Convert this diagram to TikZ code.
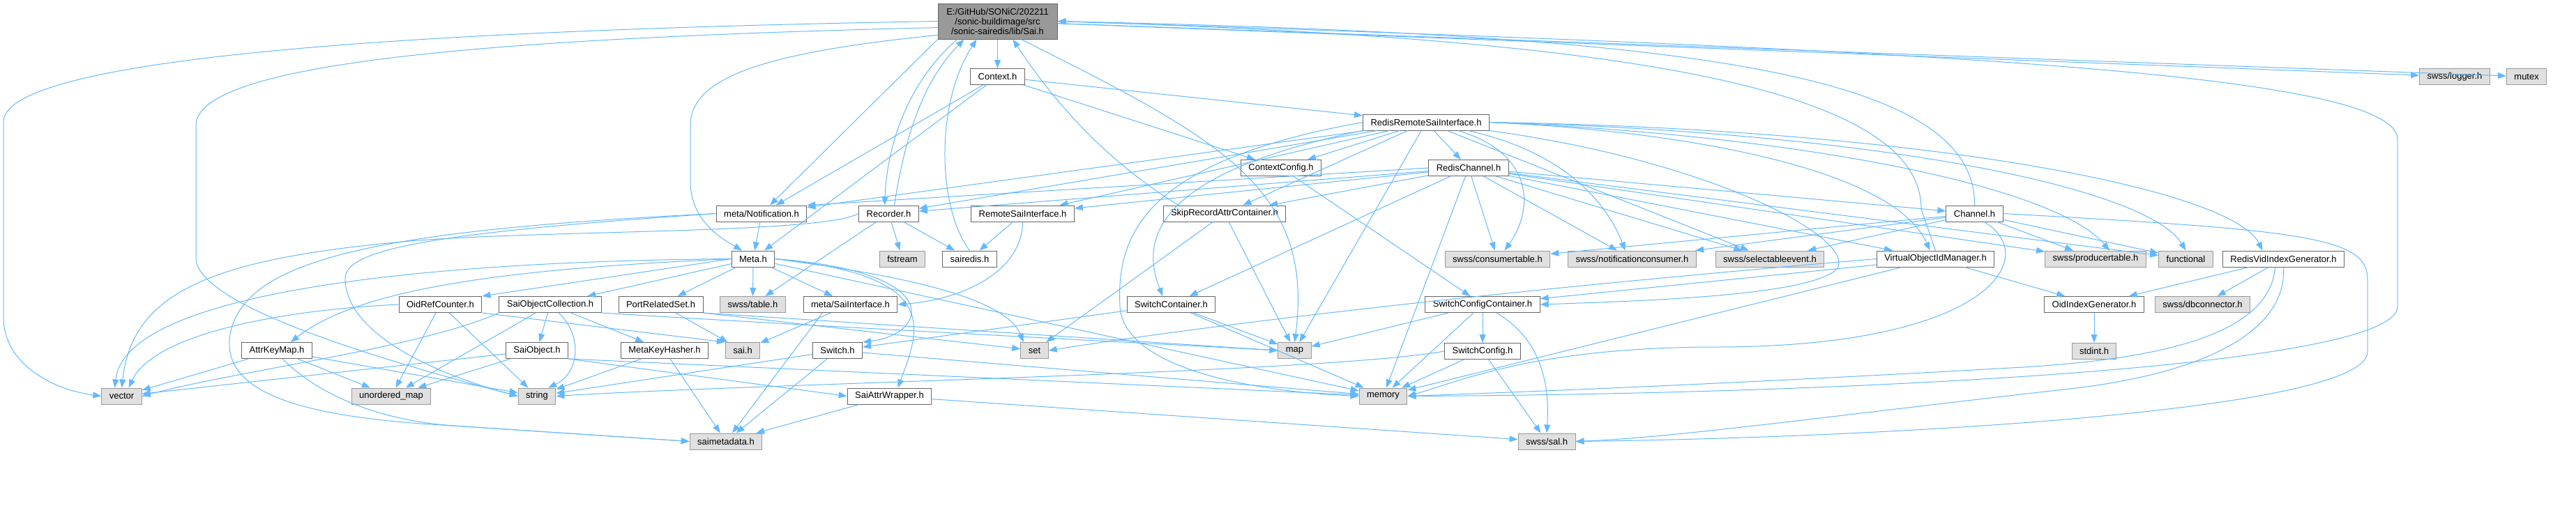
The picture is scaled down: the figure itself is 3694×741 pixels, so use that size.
\documentclass[tikz,border=0pt]{standalone}
\usepackage{fontspec}
\setmainfont{Liberation Sans}
\usetikzlibrary{arrows.meta, positioning}
\definecolor{edgeblue}{HTML}{63B8FF}
\definecolor{sysgrey}{HTML}{E0E0E0}
\definecolor{sysline}{HTML}{999999}
\definecolor{hdrline}{HTML}{666666}
\definecolor{maingrey}{HTML}{999999}

\begin{document}
\begin{tikzpicture}[
			x=0.5pt, y=-0.5pt,
			node distance=21.5pt,
			font=\fontsize{6.5}{7}\selectfont,
			hdr/.style={draw=hdrline, fill=white, line width=0.5pt,
				inner xsep=5.5pt, inner ysep=0pt, minimum height=11.5pt},
			syshdr/.style={hdr, draw=sysline, fill=sysgrey},
			mainhdr/.style={hdr, fill=maingrey, align=center,
				minimum width=85.5pt, minimum height=25.5pt},
			dep/.style={-{Triangle[length=6pt, width=4.5pt]}, draw=edgeblue, line width=0.5pt}
			]
			\useasboundingbox (0,0) rectangle (3694,741);

			\node[mainhdr] (sai) at (1430.5,30.5) {E:/GitHub/SONiC/202211\\/sonic-buildimage/src\\/sonic-sairedis/lib/Sai.h};
			\node[hdr] (context) at (1430.5,110) {Context.h};
			\node[syshdr] (logger) at (3520,110) {swss/logger.h};
			\node[syshdr, right=11.5pt of logger] (mutex) {mutex};
			\node[hdr] (rrsi) at (2045,175.5) {RedisRemoteSaiInterface.h};
			\node[hdr] (ctxcfg) at (1837,241) {ContextConfig.h};
			\node[hdr] (redischan) at (2106,241) {RedisChannel.h};
			\node[hdr] (notif) at (1092,306.5) {meta/Notification.h};
			\node[hdr] (recorder) at (1274.5,306.5) {Recorder.h};
			\node[hdr] (remotesai) at (1466.5,306.5) {RemoteSaiInterface.h};
			\node[hdr] (skiprec) at (1756,306.5) {SkipRecordAttrContainer.h};
			\node[hdr] (channel) at (2831.5,306.5) {Channel.h};
			\node[hdr] (meta) at (1080,371.5) {Meta.h};
			\node[syshdr] (fstream) at (1294,371.5) {fstream};
			\node[hdr] (sairedis) at (1390.5,371.5) {sairedis.h};
			\node[syshdr] (consumer) at (2147.5,371.5) {swss/consumertable.h};
			\node[syshdr] (notifcons) at (2340.5,371.5) {swss/notificationconsumer.h};
			\node[syshdr] (selev) at (2538,371.5) {swss/selectableevent.h};
			\node[hdr] (vidmgr) at (2775.5,371.5) {VirtualObjectIdManager.h};
			\node[syshdr] (producer) at (3005,371.5) {swss/producertable.h};
			\node[syshdr] (functional) at (3134.5,371.5) {functional};
			\node[hdr] (vidgen) at (3274.5,371.5) {RedisVidIndexGenerator.h};
			\node[hdr] (oidref) at (631.5,437) {OidRefCounter.h};
			\node[hdr] (saiobjcoll) at (789,437) {SaiObjectCollection.h};
			\node[hdr] (portset) at (947.5,437) {PortRelatedSet.h};
			\node[syshdr] (table) at (1079.5,437) {swss/table.h};
			\node[hdr] (saiif) at (1219.5,437) {meta/SaiInterface.h};
			\node[hdr] (swcont) at (1679.5,437) {SwitchContainer.h};
			\node[hdr] (swcfgcont) at (2126,437) {SwitchConfigContainer.h};
			\node[hdr] (oidgen) at (3003,437) {OidIndexGenerator.h};
			\node[syshdr] (dbconn) at (3158.5,437) {swss/dbconnector.h};
			\node[hdr] (attrkey) at (397,503) {AttrKeyMap.h};
			\node[hdr] (saiobj) at (770,503) {SaiObject.h};
			\node[hdr] (hasher) at (953,503) {MetaKeyHasher.h};
			\node[syshdr] (saih) at (1065,503) {sai.h};
			\node[hdr] (switchh) at (1201,503) {Switch.h};
			\node[syshdr] (set) at (1483.5,503) {set};
			\node[syshdr] (map) at (1856.5,503) {map};
			\node[hdr, below=of swcfgcont] (swcfg) {SwitchConfig.h};
			\node[syshdr, below=of oidgen] (stdint) {stdint.h};
			\node[syshdr] (vector) at (174.5,568.5) {vector};
			\node[syshdr] (umap) at (561,568.5) {unordered\_map};
			\node[syshdr] (string) at (770,568.5) {string};
			\node[hdr] (wrapper) at (1275.5,568.5) {SaiAttrWrapper.h};
			\node[syshdr] (memory) at (1983.5,568.5) {memory};
			\node[syshdr] (saimeta) at (1041,633.5) {saimetadata.h};
			\node[syshdr] (sal) at (2218,633.5) {swss/sal.h};

			\foreach \a/\b in {sai/context, sai/logger, sai/mutex, recorder/fstream, recorder/sairedis, recorder/table,
				context/notif, context/meta, context/ctxcfg, context/rrsi,
				rrsi/ctxcfg, rrsi/redischan, rrsi/recorder, rrsi/notif, rrsi/remotesai, rrsi/skiprec, rrsi/selev, rrsi/map,
				redischan/channel, redischan/recorder, redischan/remotesai, redischan/skiprec, redischan/swcont,
				redischan/vidmgr, redischan/consumer, redischan/notifcons, redischan/selev, redischan/producer,
				redischan/functional, redischan/memory,
				channel/consumer, channel/notifcons, channel/selev, channel/producer, channel/functional,
				ctxcfg/swcfgcont, swcfgcont/swcfg, swcfgcont/map, swcfgcont/memory, swcfg/memory, swcfg/sal,
				vidmgr/swcfgcont, vidmgr/memory, vidmgr/oidgen, vidgen/oidgen, vidgen/dbconn, oidgen/stdint,
				remotesai/sairedis, skiprec/set, skiprec/map, swcont/switchh, swcont/map, swcont/memory,
				notif/meta, meta/saiobjcoll, meta/portset, meta/table, meta/saiif, meta/memory,
				oidref/umap, oidref/string, saiobjcoll/saiobj, saiobjcoll/hasher, saiobjcoll/umap, portset/saih, saiif/saih,
				attrkey/vector, attrkey/umap, attrkey/string, saiobj/umap, saiobj/vector,
				hasher/string, hasher/saimeta, switchh/string, switchh/saimeta, switchh/memory, wrapper/saimeta, wrapper/sal} {
				\draw[dep] (\a) -- (\b);
			}

			\draw[dep] (sai.south west) -- (notif);
			\draw[dep] (redischan.west) -- (notif.north east);
			\draw[dep] (meta.west) -- (oidref.north east);
			\draw[dep] (oidref.south east) -- (saih.north west);
			\draw[dep] (portset.south east) -- (set);
			\draw[dep] (portset.south east) -- (map.west);
			\draw[dep] ([xshift=-20pt]saiif.south) -- (saimeta);
			\draw[dep] (saiobj.south east) -- (memory);
			\draw[dep] (saiobj.south east) -- (wrapper.west);

			\draw[dep] (sai.west) .. controls (500,45) and (5,90) .. (5,175) -- (5,455) .. controls (5,525) and (80,560) .. (vector.west);
			\draw[dep] (sai.186) .. controls (700,55) and (281,90) .. (281,180) -- (281,370) .. controls (281,440) and (560,520) .. (string.west);
			\draw[dep] (sai.193) .. controls (1100,75) and (990,110) .. (990,180) -- (990,260) .. controls (990,320) and (1040,345) .. ([xshift=-8pt]meta.north);
			\draw[dep] ([xshift=17pt]sai.south) .. controls (1750,200) and (1885,270) .. (map.north);
			\draw[dep] (sai.east) .. controls (2700,70) and (3438,100) .. (3438,200) -- (3438,440) .. controls (3438,530) and (2600,566) .. (memory.east);
			\draw[dep] ([xshift=-29pt]sai.south) .. controls (1300,120) and (1272,210) .. ([xshift=-3pt]recorder.north);
			\draw[dep] ([xshift=4pt]recorder.north) .. controls (1300,180) and (1330,110) .. ([xshift=-24pt]sai.south);
			\draw[dep] (sairedis.north) .. controls (1345,300) and (1340,150) .. ([xshift=-15pt]sai.south);
			\draw[dep] ([xshift=-33pt]skiprec.north) .. controls (1600,240) and (1520,160) .. ([xshift=11pt]sai.south);
			\draw[dep] (channel.north) .. controls (2834,100) and (2400,50) .. (sai.east);
			\draw[dep] (vidmgr.north) -- (2755,300) .. controls (2755,120) and (2300,55) .. (sai.east);

			\draw[dep] (rrsi.south west) .. controls (1700,240) and (1625,320) .. ([xshift=-6pt]swcont.north);
			\draw[dep] (rrsi.west) .. controls (1650,230) and (1600,330) .. (1606,440) .. controls (1612,530) and (1800,562) .. (memory.west);
			\draw[dep] (rrsi.south east) .. controls (2450,230) and (2660,340) .. (2635,385) .. controls (2600,425) and (2350,432) .. (swcfgcont.east);
			\draw[dep] (rrsi.east) .. controls (2450,190) and (2720,250) .. ([xshift=-4pt]vidmgr.north);
			\draw[dep] ([xshift=23pt]rrsi.south) .. controls (2200,220) and (2200,300) .. ([xshift=5pt]consumer.north);
			\draw[dep] ([xshift=30pt]rrsi.south) .. controls (2230,215) and (2300,280) .. ([xshift=-5pt]notifcons.north);
			\draw[dep] (rrsi.east) .. controls (2600,195) and (2950,270) .. ([xshift=10pt]producer.north);
			\draw[dep] (rrsi.east) .. controls (2700,190) and (3080,270) .. (functional.north);
			\draw[dep] (rrsi.east) .. controls (2750,185) and (3200,270) .. ([xshift=-15pt]vidgen.north);

			\draw[dep] ([xshift=7pt]channel.south) .. controls (2930,370) and (2850,500) .. (2450,498) .. controls (2200,500) and (2100,545) .. (memory.east);
			\draw[dep] (channel.east) .. controls (3300,330) and (3395,340) .. (3395,400) -- (3395,505) .. controls (3395,590) and (2700,628) .. (sal.east);
			\draw[dep] ([xshift=-6pt]vidgen.south) .. controls (3255,480) and (3100,515) .. (2900,527) .. controls (2500,550) and (2200,562) .. (memory.east);
			\draw[dep] (vidgen.south) .. controls (3280,480) and (3150,540) .. (2950,560) .. controls (2600,600) and (2400,628) .. (sal.east);
			\draw[dep] (vidmgr.west) .. controls (2000,430) and (1650,480) .. (set.east);
			\draw[dep] ([xshift=10pt]swcfgcont.south) .. controls (2215,490) and (2222,560) .. (sal.north);
			\draw[dep] (swcfg.west) .. controls (1900,535) and (1100,550) .. (string.east);
			\draw[dep] (remotesai.south) .. controls (1466,390) and (1380,430) .. (saiif.east);

			\draw[dep] (notif.west) .. controls (550,330) and (350,370) .. (330,480) .. controls (315,570) and (450,600) .. (650,611) -- (saimeta.west);
			\draw[dep] (notif.west) .. controls (600,335) and (495,360) .. (495,400) .. controls (495,470) and (600,530) .. (string.west);
			\draw[dep] (recorder.west) .. controls (1180,335) and (800,330) .. (600,345) .. controls (300,370) and (190,420) .. (vector.north);
			\draw[dep] (meta.west) .. controls (600,375) and (180,420) .. ([xshift=-5pt]vector.north);
			\draw[dep] (meta.west) .. controls (750,385) and (520,410) .. ([xshift=10pt]attrkey.north);
			\draw[dep] (meta.east) .. controls (1250,390) and (1440,420) .. ([xshift=-8pt]set.north);
			\draw[dep] (meta.east) .. controls (1350,395) and (1320,470) .. ([xshift=6pt]wrapper.north);
			\draw[dep] (meta.east) .. controls (1360,390) and (1330,480) .. (switchh.north east);
			\draw[dep] (oidref.west) .. controls (400,445) and (220,480) .. ([xshift=5pt]vector.north);
			\draw[dep] (saiobjcoll.south west) .. controls (600,500) and (350,530) .. (vector.east);
			\draw[dep] ([xshift=6pt]saiobjcoll.south) .. controls (835,480) and (832,535) .. ([xshift=8pt]string.north);
			\draw[dep] (saiobjcoll.south east) .. controls (1200,470) and (1600,490) .. (map.west);
			\draw[dep] ([xshift=4pt]attrkey.south) .. controls (450,560) and (530,602) .. (650,611) -- (saimeta.west);

		\end{tikzpicture}
\end{document}
